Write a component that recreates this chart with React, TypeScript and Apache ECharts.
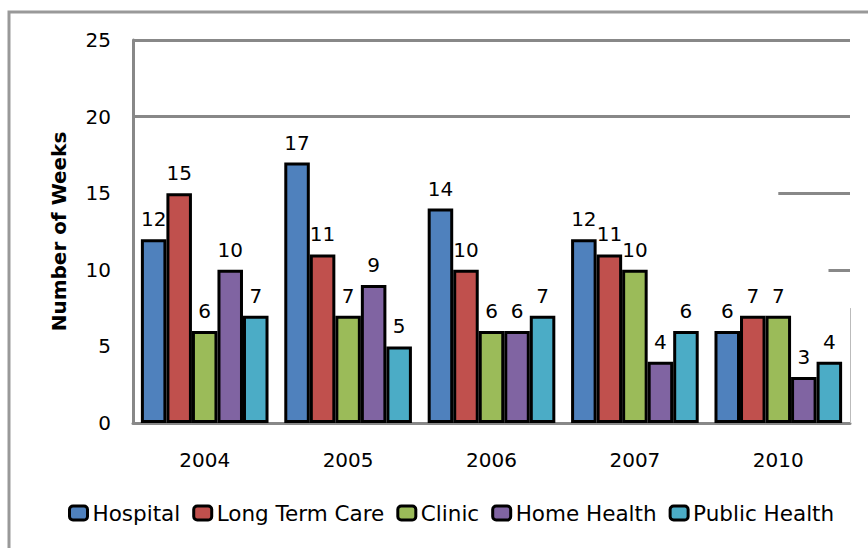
import React, { useEffect, useRef } from "react";
import * as echarts from "echarts";

const categories = ["2004", "2005", "2006", "2007", "2010"];
const seriesNames = ["Hospital", "Long Term Care", "Clinic", "Home Health", "Public Health"];
const hospital = [12, 17, 14, 12, 6];
const longTermCare = [15, 11, 10, 11, 7];
const clinic = [6, 7, 6, 10, 7];
const homeHealth = [10, 9, 6, 4, 3];
const publicHealth = [7, 5, 7, 6, 4];
const colors = ["#4F81BD", "#C0504D", "#9BBB59", "#8064A2", "#4BACC6"];
const yTicks = [0, 5, 10, 15, 20, 25];

const FONT = "DejaVu Sans";

export default function App() {
  const ref = useRef<HTMLDivElement>(null);
  useEffect(() => {
    document.body.style.margin = "0";
    const chart = echarts.init(ref.current!, null, { renderer: "svg" });
    const values = [hospital, longTermCare, clinic, homeHealth, publicHealth];
    const barSeries = values.map((v, i) => ({
      name: seriesNames[i],
      type: "bar",
      data: v,
      barGap: "0%",
      barCategoryGap: "11%",
      itemStyle: { color: colors[i], borderColor: "#000", borderWidth: 3 },
      label: {
        show: true,
        position: "top",
        distance: 10,
        color: "#000",
        fontFamily: FONT,
        fontSize: 20,
      },
    }));
    const gridColor = "#888888";
    chart.setOption({
      animation: false,
      color: colors,
      graphic: [
        {
          type: "rect",
          shape: { x: 9, y: 12, width: 900, height: 600 },
          style: { fill: "none", stroke: "#999", lineWidth: 3 },
          silent: true,
        },
      ],
      grid: { left: 133, right: 18, top: 40, bottom: 125 },
      legend: {
        bottom: 19,
        left: 63,
        itemWidth: 18,
        itemHeight: 14,
        itemGap: 12,
        icon: "roundRect",
        data: seriesNames.map((n) => ({
          name: n,
          itemStyle: { borderColor: "#000", borderWidth: 3 },
        })),
        textStyle: { fontFamily: FONT, fontSize: 21.5, color: "#000" },
      },
      xAxis: [
        {
          type: "category",
          data: categories,
          axisLine: { lineStyle: { color: "#888", width: 3 } },
          axisTick: { show: false },
          axisLabel: { fontFamily: FONT, fontSize: 20, color: "#000", margin: 27 },
        },
        {
          type: "value",
          min: 0,
          max: 1,
          show: false,
        },
      ],
      yAxis: {
        type: "value",
        min: 0,
        max: 25,
        interval: 5,
        name: "Number of Weeks",
        nameLocation: "middle",
        nameGap: 64,
        nameTextStyle: { fontFamily: FONT, fontSize: 20, fontWeight: "bold", color: "#000" },
        axisLine: { show: true, lineStyle: { color: "#888", width: 3 } },
        axisTick: { show: false },
        splitLine: { show: false },
        axisLabel: {
          fontFamily: FONT,
          fontSize: 20,
          color: "#000",
          margin: 22,
          formatter: (v: number) => (yTicks.includes(v) ? String(v) : ""),
        },
      },
      series: [
        ...barSeries,
        {
          type: "line",
          xAxisIndex: 1,
          data: [],
          silent: true,
          markLine: {
            symbol: "none",
            silent: true,
            label: { show: false },
            lineStyle: { color: gridColor, width: 3, type: "solid" },
            data: [
              [{ coord: [0, 25] }, { coord: [1, 25] }],
              [{ coord: [0, 20] }, { coord: [1, 20] }],
              [{ coord: [0.9, 15] }, { coord: [1, 15] }],
              [{ coord: [0.97, 10] }, { coord: [1, 10] }],
              [
                { coord: [1, 7.5], lineStyle: { color: "#bbb", width: 1 } },
                { coord: [1, 0], lineStyle: { color: "#bbb", width: 1 } },
              ],
            ],
          },
        },
      ],
    });
    return () => chart.dispose();
  }, []);
  return <div ref={ref} style={{ width: 868, height: 548 }} />;
}
